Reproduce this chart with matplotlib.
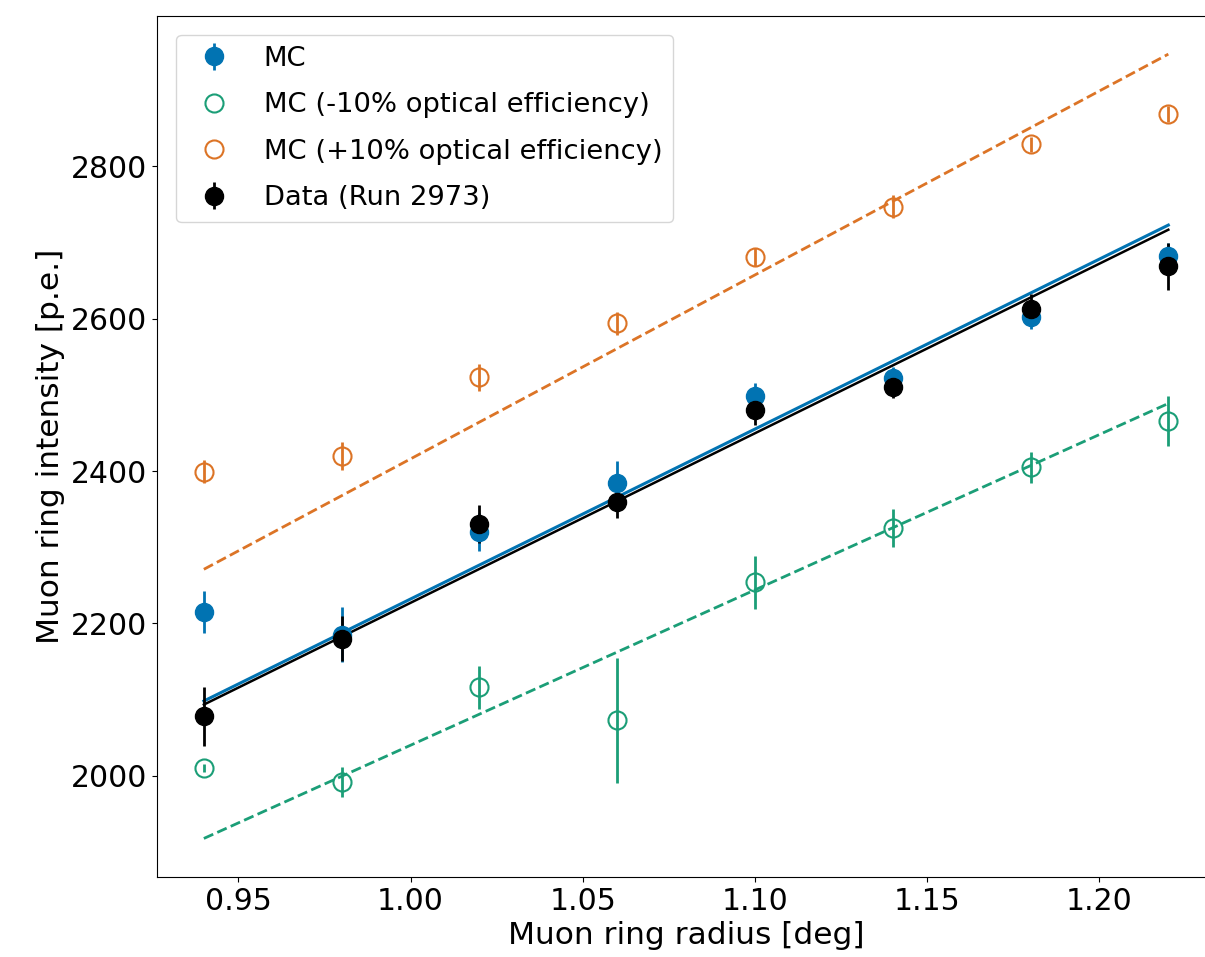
import numpy as np
import matplotlib
matplotlib.use("Agg")
import matplotlib.pyplot as plt
from matplotlib.lines import Line2D

# ring radius bins [deg]
radius = [0.94, 0.98, 1.02, 1.06, 1.10, 1.14, 1.18, 1.22]

# MC nominal
mc = [2215, 2185, 2320, 2385, 2498, 2522, 2602, 2682]
mc_err = [27, 36, 25, 28, 18, 15, 15, 18]

# MC -10% optical efficiency
mc_low = [2010, 1992, 2116, 2073, 2254, 2325, 2405, 2466]
mc_low_err = [5, 20, 28, 82, 35, 25, 20, 33]

# MC +10% optical efficiency
mc_high = [2399, 2420, 2523, 2594, 2681, 2747, 2829, 2869]
mc_high_err = [15, 18, 18, 15, 12, 15, 10, 10]

# data, run 2973
data = [2078, 2180, 2330, 2360, 2480, 2511, 2613, 2669]
data_err = [39, 30, 25, 22, 20, 15, 20, 31]

# slopes of the proportional fits I = k * r
k_mc, k_low, k_high, k_data = 2232, 2040, 2416, 2227

c_blue = "#0173B2"
c_green = "#1B9E77"
c_orange = "#DC7426"

plt.rcParams['font.family'] = ['DejaVu Sans']

fig = plt.figure(figsize=(12.05, 9.57), dpi=100)
ax = fig.add_axes([0.1303, 0.0836, 0.879, 0.9])

r = np.array(radius)

# fits
ax.plot(r, k_high*r, ls='--', color=c_orange, lw=2)
ax.plot(r, k_low*r, ls='--', color=c_green, lw=2)
ax.plot(r, k_mc*r, color=c_blue, lw=2.2)
ax.plot(r, k_data*r, color='black', lw=1.8)

# points
h_mc = ax.errorbar(radius, mc, yerr=mc_err, fmt='o', color=c_blue, ms=13, elinewidth=2)
ax.errorbar(radius, mc_low, yerr=mc_low_err, fmt='o', mfc='none', mec=c_green,
            color=c_green, ms=13, mew=1.5, elinewidth=2)
ax.errorbar(radius, mc_high, yerr=mc_high_err, fmt='o', mfc='none', mec=c_orange,
            color=c_orange, ms=13, mew=1.5, elinewidth=2)
h_data = ax.errorbar(radius, data, yerr=data_err, fmt='o', color='black', ms=13, elinewidth=2)

h_low = Line2D([], [], ls='none', marker='o', mfc='none', mec=c_green, ms=13, mew=1.5)
h_high = Line2D([], [], ls='none', marker='o', mfc='none', mec=c_orange, ms=13, mew=1.5)

ax.legend([h_mc, h_low, h_high, h_data],
          ['MC', 'MC (-10% optical efficiency)', 'MC (+10% optical efficiency)', 'Data (Run 2973)'],
          loc='upper left', fontsize=19.7, labelspacing=0.75, borderaxespad=0.7)

ax.set_xlim(0.9264, 1.2339)
ax.set_ylim(1867, 2998)
ax.set_xticks([0.95, 1.00, 1.05, 1.10, 1.15, 1.20])
ax.set_yticks([2000, 2200, 2400, 2600, 2800])
ax.tick_params(labelsize=21.5)
ax.set_xlabel('Muon ring radius [deg]', fontsize=22.5)
ax.set_ylabel('Muon ring intensity [p.e.]', fontsize=22.5)

fig.savefig('out.png', dpi=100)
